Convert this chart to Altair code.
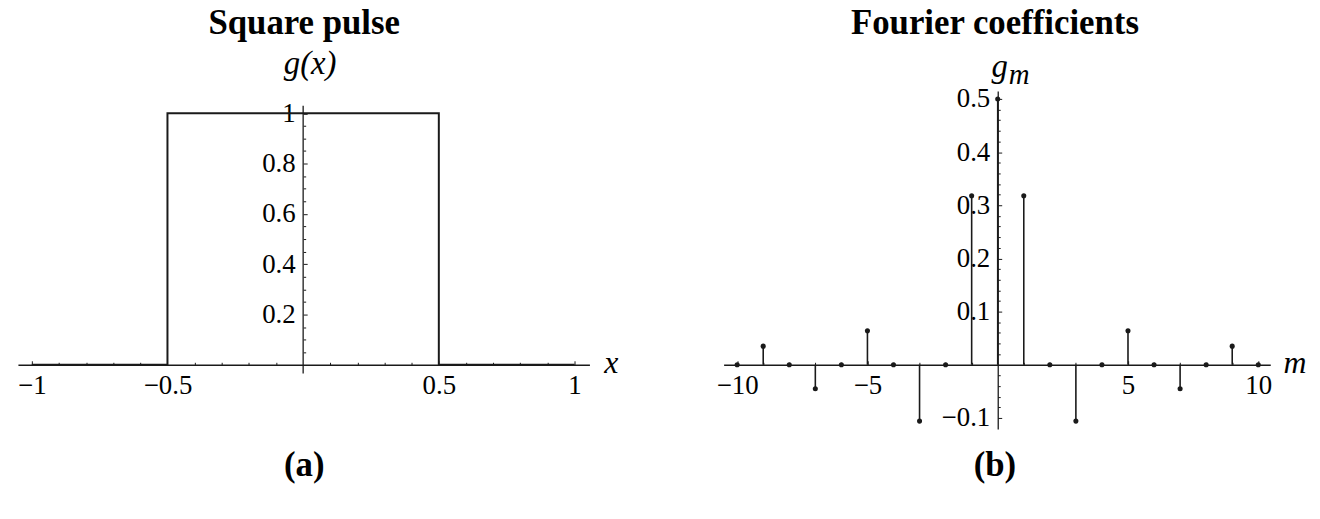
import altair as alt
import pandas as pd

# ---------------- data ----------------
pulse_x = [-1.0, -0.5, -0.5, 0.5, 0.5, 1.0]
pulse_y = [0.0, 0.0, 1.0, 1.0, 0.0, 0.0]

m_values = [-10, -9, -8, -7, -6, -5, -4, -3, -2, -1, 0, 1, 2, 3, 4, 5, 6, 7, 8, 9, 10]
g_values = [0.0, 0.035, 0.0, -0.045, 0.0, 0.064, 0.0, -0.106, 0.0, 0.318, 0.5,
            0.318, 0.0, -0.106, 0.0, 0.064, 0.0, -0.045, 0.0, 0.035, 0.0]

left_x_ticks = [-1, -0.5, 0.5, 1]
left_x_minor = [-0.9, -0.8, -0.7, -0.6, -0.4, -0.3, -0.2, -0.1,
                0.1, 0.2, 0.3, 0.4, 0.6, 0.7, 0.8, 0.9]
left_y_ticks = [0.2, 0.4, 0.6, 0.8, 1]
left_y_minor = [0.05, 0.1, 0.15, 0.25, 0.3, 0.35, 0.45, 0.5, 0.55,
                0.65, 0.7, 0.75, 0.85, 0.9, 0.95]
right_x_ticks = [-10, -5, 5, 10]
right_x_minor = [-9, -8, -7, -6, -4, -3, -2, -1, 1, 2, 3, 4, 6, 7, 8, 9]
right_y_ticks = [-0.1, 0.1, 0.2, 0.3, 0.4, 0.5]
right_y_minor = [-0.08, -0.06, -0.04, -0.02, 0.02, 0.04, 0.06, 0.08,
                 0.12, 0.14, 0.16, 0.18, 0.22, 0.24, 0.26, 0.28,
                 0.32, 0.34, 0.36, 0.38, 0.42, 0.44, 0.46, 0.48]

titles = ["Square pulse", "Fourier coefficients"]
panel_tags = ["(a)", "(b)"]

FONT = "Liberation Serif"
INK = "#1a1a1a"

# ---------------- layout ----------------
H = 340
Y0 = 275.5            # pixel row of value 0 from top of plot
W1, W2 = 575, 550
X0_1 = 287.0          # pixel column of x = 0 (left panel)
X0_2 = 275.8          # pixel column of m = 0 (right panel)

xs1 = alt.Scale(domain=[-1.051, 1.055], nice=False, zero=False)
ys1 = alt.Scale(domain=[-0.255, 1.089], nice=False, zero=False)
xs2 = alt.Scale(domain=[-10.52, 10.46], nice=False, zero=False)
ys2 = alt.Scale(domain=[-0.1206, 0.515], nice=False, zero=False)


def x_axis(values, major, domain=True):
    kw = dict(orient="top", offset=-Y0, values=values, title=None, grid=False,
              domain=domain, domainColor=INK, domainWidth=1.3,
              ticks=True, tickColor=INK, tickWidth=1,
              tickSize=4 if major else 2.5, minExtent=0, maxExtent=0)
    if major:
        kw.update(labels=True, format="~r", labelFont=FONT, labelFontSize=27,
                  labelColor="black", labelBaseline="top", labelAlign="center",
                  labelPadding=-12, labelFlush=False, labelOverlap=False)
    else:
        kw.update(labels=False)
    return alt.Axis(**kw)


def y_axis(values, major, x0, width, domain=True):
    kw = dict(orient="right", offset=-(width - x0), values=values, title=None,
              grid=False, domain=domain, domainColor=INK, domainWidth=1.3,
              ticks=True, tickColor=INK, tickWidth=1,
              tickSize=4 if major else 2.5, minExtent=0, maxExtent=0)
    if major:
        kw.update(labels=True, format="~r", labelFont=FONT, labelFontSize=27,
                  labelColor="black", labelBaseline="middle", labelAlign="right",
                  labelPadding=-12, labelFlush=False, labelOverlap=False)
    else:
        kw.update(labels=False)
    return alt.Axis(**kw)


def label(text, x, y, size, italic=True, bold=False, align="center", baseline="alphabetic"):
    return alt.Chart(pd.DataFrame({"t": [text]})).mark_text(
        font=FONT, fontSize=size, fontStyle="italic" if italic else "normal",
        fontWeight="bold" if bold else "normal", color="black",
        align=align, baseline=baseline
    ).encode(text="t:N", x=alt.value(x), y=alt.value(y))


# ---------------- left panel ----------------
pulse_df = pd.DataFrame({"x": pulse_x, "y": pulse_y, "i": list(range(len(pulse_x)))})

pulse = alt.Chart(pulse_df).mark_line(color=INK, strokeWidth=2, strokeJoin="miter").encode(
    x=alt.X("x:Q", scale=xs1, axis=x_axis(left_x_ticks, True)),
    y=alt.Y("y:Q", scale=ys1, axis=y_axis(left_y_ticks, True, X0_1, W1, domain=False)),
    order="i:Q",
)
pulse_minor = alt.Chart(pulse_df).mark_line(opacity=0).encode(
    x=alt.X("x:Q", scale=xs1, axis=x_axis(left_x_minor, False, domain=False)),
    y=alt.Y("y:Q", scale=ys1, axis=y_axis(left_y_minor, False, X0_1, W1, domain=False)),
    order="i:Q",
)
left_yline = alt.Chart(pd.DataFrame({"a": [0]})).mark_rule(color=INK, strokeWidth=1.3).encode(
    x=alt.X(datum=0, scale=xs1, axis=None),
    y=alt.Y(datum=-0.035, scale=ys1, axis=None),
    y2=alt.Y2(datum=1.03),
)

left = alt.layer(
    pulse, pulse_minor, left_yline,
    label(titles[0], 288, -57, 35, italic=False, bold=True),
    label("g(x)", X0_1 + 7, -17, 33),
    label("x", W1 + 22, Y0 + 8, 32),
    label(panel_tags[0], 288, 376, 35, italic=False, bold=True, baseline="middle"),
).resolve_axis(x="independent", y="independent").properties(width=W1, height=H)

# ---------------- right panel ----------------
coef_df = pd.DataFrame({"m": m_values, "g": g_values})

stems = alt.Chart(coef_df).mark_rule(color=INK, strokeWidth=1.6).encode(
    x=alt.X("m:Q", scale=xs2, axis=x_axis(right_x_ticks, True)),
    y=alt.Y("g:Q", scale=ys2, axis=y_axis(right_y_ticks, True, X0_2, W2)),
    y2=alt.Y2(datum=0),
)
stems_minor = alt.Chart(coef_df).mark_rule(opacity=0).encode(
    x=alt.X("m:Q", scale=xs2, axis=x_axis(right_x_minor, False, domain=False)),
    y=alt.Y("g:Q", scale=ys2, axis=y_axis(right_y_minor, False, X0_2, W2, domain=False)),
)
dots = alt.Chart(coef_df).mark_circle(color=INK, size=26, opacity=1).encode(
    x=alt.X("m:Q", scale=xs2, axis=None),
    y=alt.Y("g:Q", scale=ys2, axis=None),
)

right = alt.layer(
    stems, stems_minor, dots,
    label(titles[1], 273, -57, 35, italic=False, bold=True),
    label("g", X0_2 + 2, -14, 33),
    label("m", X0_2 + 11, -7, 29, align="left"),
    label("m", W2 + 25, Y0 + 8, 32),
    label(panel_tags[1], 273, 376, 35, italic=False, bold=True, baseline="middle"),
).resolve_axis(x="independent", y="independent").properties(width=W2, height=H)

chart = alt.hconcat(left, right, spacing=135, bounds="flush").properties(
    padding={"left": 9, "top": -3, "right": 5, "bottom": 0},
    background="white",
).configure_view(stroke=None)

chart.save("out.html", embed_options={"renderer": "svg", "actions": False})
